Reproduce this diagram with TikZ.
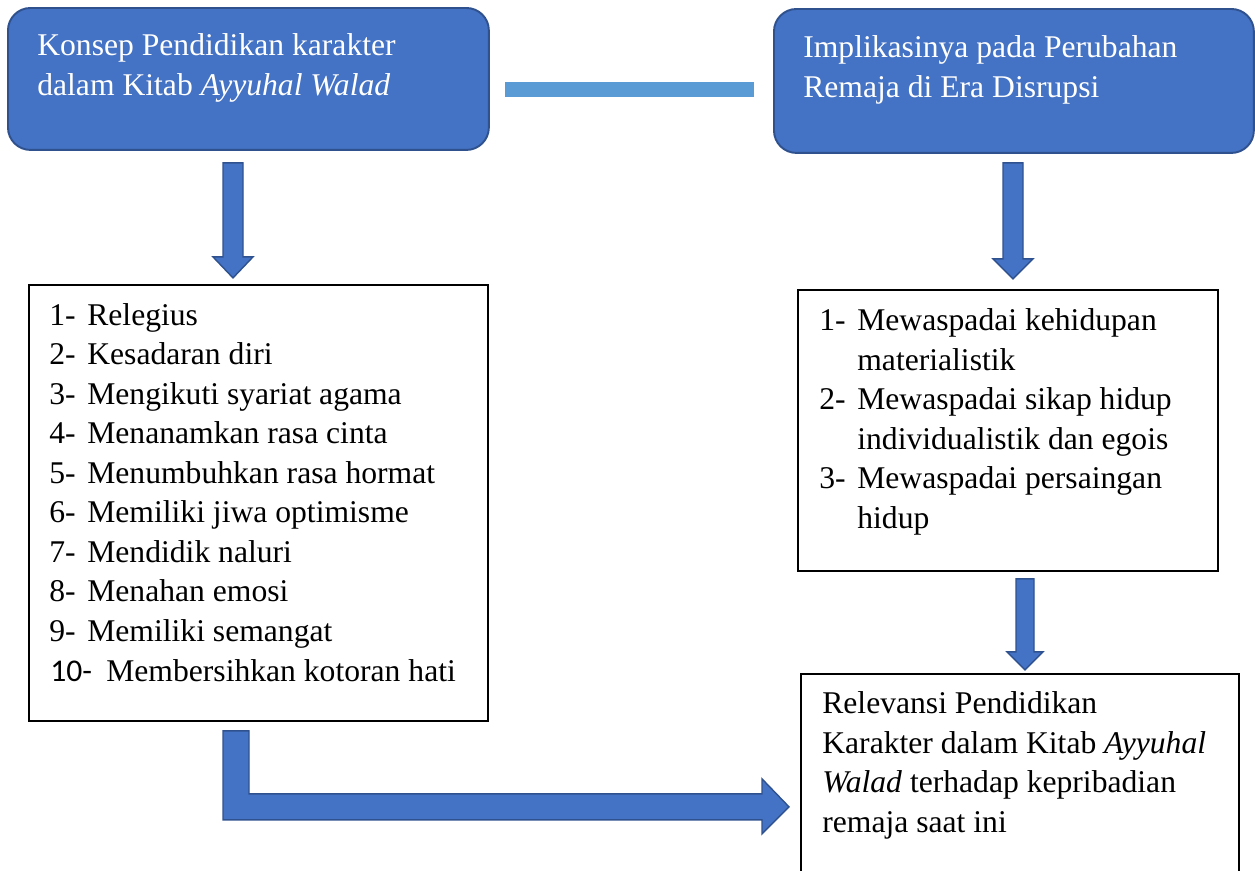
\documentclass[tikz,border=0pt]{standalone}
\usepackage{fontspec}
\setmainfont{Liberation Serif}
\newfontfamily\numfont{Carlito}
\usetikzlibrary{positioning,calc}

\definecolor{boxblue}{HTML}{4472C4}
\definecolor{edgeblue}{HTML}{2F528F}
\definecolor{barblue}{HTML}{5B9BD5}

\newcommand{\itemno}[1]{\makebox[0.76cm][l]{#1}}

\tikzset{
  headbox/.style={draw=edgeblue,line width=1.1pt,fill=boxblue,rounded corners=0.45cm,anchor=north west,inner sep=0pt},
  listbox/.style={draw=black,line width=1.1pt,anchor=north west,inner sep=0pt},
  blockarrow/.style={fill=boxblue,draw=edgeblue,line width=0.8pt,line join=miter},
  itemtext/.style={anchor=base west,inner sep=0pt,font=\fontsize{18}{22}\selectfont},
  headtext/.style={itemtext,text=white}
}

\begin{document}
\begin{tikzpicture}[x=0.02cm,y=-0.02cm]
  \clip (0,0) rectangle (1255,870);

  % boxes
  \node[headbox,minimum width=9.62cm,minimum height=2.84cm](konsep) at (7,7){};
  \node[headbox,minimum width=9.6cm,minimum height=2.88cm](implikasi) at (773,8){};
  \node[listbox,minimum width=9.18cm,minimum height=8.72cm](nilai) at (28,284){};
  \node[listbox,minimum width=8.4cm,minimum height=5.62cm](waspada) at (797,289){};
  \node[listbox,minimum width=8.76cm,minimum height=4.4cm](relevansi) at (800,673){};

  % heading texts
  \node[headtext](konsepA) at (37,55){Konsep Pendidikan karakter};
  \node[headtext](konsepB) at (37,95){dalam Kitab \textit{Ayyuhal Walad}};
  \node[headtext](impA) at (803,57){Implikasinya pada Perubahan};
  \node[headtext](impB) at (803,97){Remaja di Era Disrupsi};

  % link between the headings
  \fill[barblue] ($(konsep.east)+(15,3)$) rectangle ($(implikasi.west)+(-19,16)$);

  % left list
  \node[itemtext](nilai1) at (49,325){\itemno{1-}Relegius};
  \node[itemtext](nilai2) at (49,364.5){\itemno{2-}Kesadaran diri};
  \node[itemtext](nilai3) at (49,404){\itemno{3-}Mengikuti syariat agama};
  \node[itemtext](nilai4) at (49,443.5){\itemno{4-}Menanamkan rasa cinta};
  \node[itemtext](nilai5) at (49,483){\itemno{5-}Menumbuhkan rasa hormat};
  \node[itemtext](nilai6) at (49,522.5){\itemno{6-}Memiliki jiwa optimisme};
  \node[itemtext](nilai7) at (49,562){\itemno{7-}Mendidik naluri};
  \node[itemtext](nilai8) at (49,601.5){\itemno{8-}Menahan emosi};
  \node[itemtext](nilai9) at (49,641){\itemno{9-}Memiliki semangat};
  \node[itemtext](nilai10) at (50,681){\makebox[1.12cm][l]{\numfont 10-}Membersihkan kotoran hati};

  % right list
  \node[itemtext](waspada1) at (819,330){\itemno{1-}Mewaspadai kehidupan};
  \node[itemtext](waspada2) at (857,370){materialistik};
  \node[itemtext](waspada3) at (819,409){\itemno{2-}Mewaspadai sikap hidup};
  \node[itemtext](waspada4) at (857,449){individualistik dan egois};
  \node[itemtext](waspada5) at (819,488){\itemno{3-}Mewaspadai persaingan};
  \node[itemtext](waspada6) at (857,528){hidup};

  % result box
  \node[itemtext](rel1) at (822,713){Relevansi Pendidikan};
  \node[itemtext](rel2) at (822,753){Karakter dalam Kitab \textit{Ayyuhal}};
  \node[itemtext](rel3) at (822,792){\textit{Walad} terhadap kepribadian};
  \node[itemtext](rel4) at (822,832){remaja saat ini};

  % block arrows
  \draw[blockarrow] ($(konsep.south west)+(216,12)$) -- ++(20,0) -- ++(0,94) -- ++(10,0)
    -- ++(-20,21) -- ++(-20,-21) -- ++(10,0) -- cycle;
  \draw[blockarrow] ($(implikasi.south west)+(230,9)$) -- ++(20,0) -- ++(0,96) -- ++(10,0)
    -- ++(-20,20) -- ++(-20,-20) -- ++(10,0) -- cycle;
  \draw[blockarrow] ($(waspada.south west)+(219,7)$) -- ++(18,0) -- ++(0,73) -- ++(9,0)
    -- ++(-18,18) -- ++(-18,-18) -- ++(9,0) -- cycle;
  \draw[blockarrow] ($(nilai.south west)+(195,9)$) -- ++(26,0) -- ++(0,63) -- ++(513,0)
    -- ++(0,-15) -- ++(27,28) -- ++(-27,27) -- ++(0,-14) -- ++(-539,0) -- cycle;
\end{tikzpicture}
\end{document}
